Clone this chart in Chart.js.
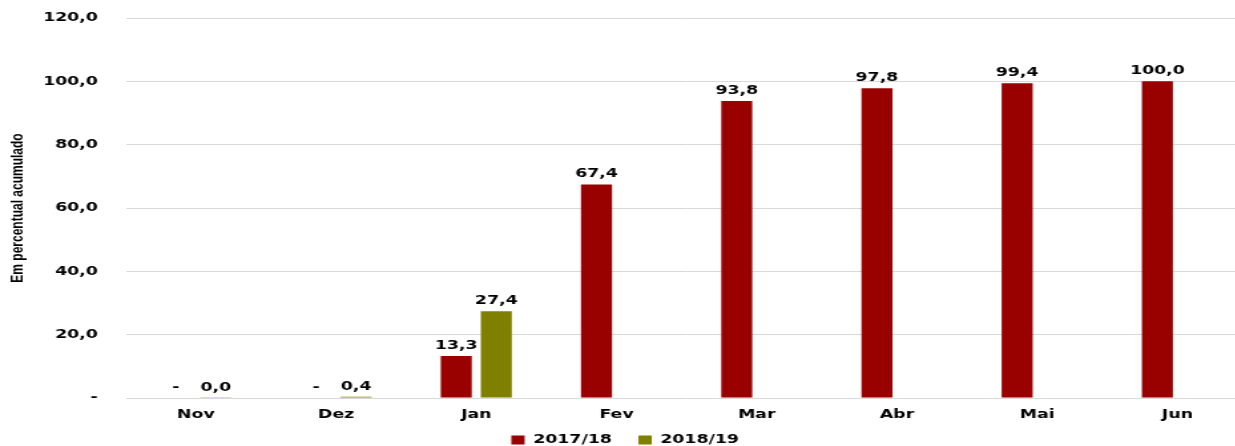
<!DOCTYPE html>
<html>
<head>
  <title>Percentual acumulado</title>
  <script src="https://cdn.jsdelivr.net/npm/chart.js"></script>
  <style>
    html, body { margin: 0; padding: 0; width: 1235px; height: 446px; overflow: hidden; background: #fff; }
    /* the original picture is stretched sideways, so draw narrow and stretch */
    #wrap { width: 940px; height: 446px; transform: scaleX(1.33); transform-origin: 0 0; }
  </style>
</head>
<body>
  <div id="wrap"><canvas id="chart"></canvas></div>

  <script>
    var months = ['Nov', 'Dez', 'Jan', 'Fev', 'Mar', 'Abr', 'Mai', 'Jun'];
    var season1718 = [0, 0, 13.3, 67.4, 93.8, 97.8, 99.4, 100.0];
    var season1819 = [0.04, 0.4, 27.4, null, null, null, null, null];
    var yTicks = [0, 20, 40, 60, 80, 100, 120];

    var font = 'DejaVu Sans, Verdana, sans-serif';

    function fmt(v) {
      if (v === 0) return '-';
      return v.toFixed(1).replace('.', ',');
    }

    // value labels above the bars
    var barLabels = {
      id: 'barLabels',
      afterDatasetsDraw: function(chart) {
        var ctx = chart.ctx;
        ctx.save();
        ctx.font = 'bold 13px ' + font;
        ctx.fillStyle = '#000';
        ctx.textAlign = 'center';
        ctx.textBaseline = 'bottom';
        chart.data.datasets.forEach(function(ds, i) {
          var meta = chart.getDatasetMeta(i);
          meta.data.forEach(function(bar, j) {
            var v = ds.data[j];
            if (v === null || v === undefined) return;
            ctx.fillText(fmt(v), bar.x, bar.y - 4);
          });
        });
        ctx.restore();
      }
    };

    var ctx = document.getElementById('chart').getContext('2d');
    var chart = new Chart(ctx, {
      type: 'bar',
      data: {
        labels: months,
        datasets: [{
          label: '2017/18',
          data: season1718,
          backgroundColor: '#990000',
          borderWidth: 0
        }, {
          label: '2018/19',
          data: season1819,
          backgroundColor: '#808000',
          borderWidth: 0
        }]
      },
      options: {
        responsive: true,
        maintainAspectRatio: false,
        animation: false,
        categoryPercentage: 0.571,
        barPercentage: 0.775,
        layout: { padding: { top: 18, right: 2, bottom: -10.6, left: 2 } },
        plugins: {
          tooltip: { enabled: false },
          legend: {
            position: 'bottom',
            labels: {
              boxWidth: 10,
              boxHeight: 9,
              padding: 11,
              color: '#000',
              font: { family: font, size: 13, weight: 'bold' },
              generateLabels: function(c) {
                var items = Chart.defaults.plugins.legend.labels.generateLabels(c);
                // a bit more room between the two entries
                items[0].text = items[0].text + '  ';
                return items;
              }
            }
          }
        },
        scales: {
          x: {
            grid: { display: false, drawTicks: false },
            border: { display: false },
            ticks: {
              padding: 9,
              color: '#000',
              font: { family: font, size: 13, weight: 'bold' }
            },
            // padding is counted twice by fit(); keep it once
            afterFit: function(axis) { axis.height -= axis.options.ticks.padding; }
          },
          y: {
            min: yTicks[0],
            max: yTicks[yTicks.length - 1],
            afterBuildTicks: function(axis) {
              axis.ticks = yTicks.map(function(v) { return { value: v }; });
            },
            afterFit: function(axis) {
              axis.width -= axis.options.ticks.padding;
              axis.paddingTop = 0;
              axis.paddingBottom = 0;
            },
            grid: { color: '#d9d9d9', drawTicks: false },
            border: { display: false },
            ticks: {
              padding: 21,
              color: '#000',
              font: { family: font, size: 13, weight: 'bold' },
              callback: function(v) { return fmt(v); }
            },
            title: {
              display: true,
              text: 'Em percentual acumulado',
              color: '#000',
              padding: { top: 4, bottom: 12 },
              font: { family: 'Liberation Sans, Arial, sans-serif', size: 12, weight: 'bold' }
            }
          }
        }
      },
      plugins: [barLabels]
    });
  </script>
</body>
</html>
